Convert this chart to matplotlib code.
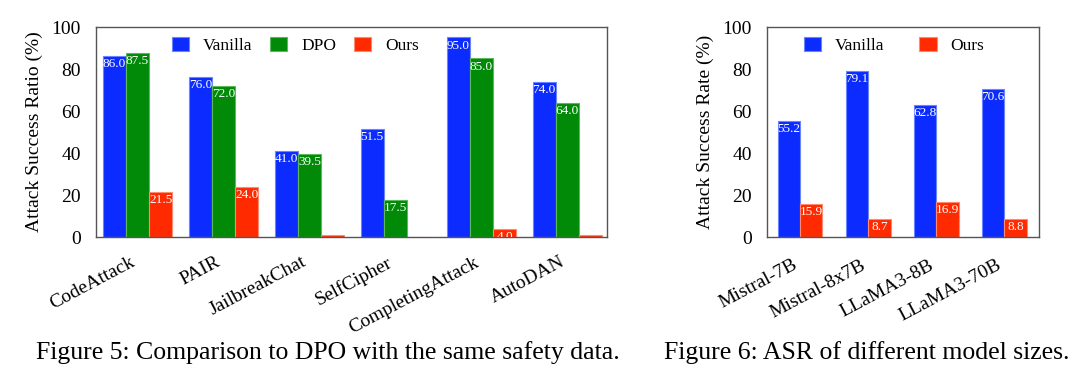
import matplotlib
matplotlib.use("Agg")
import matplotlib.pyplot as plt
import numpy as np

plt.rcParams["font.family"] = ["Liberation Serif", "DejaVu Serif"]

# ─── Data ───
attacks = ["CodeAttack", "PAIR", "JailbreakChat", "SelfCipher", "CompletingAttack", "AutoDAN"]
dpo_vanilla = [86.0, 76.0, 41.0, 51.5, 95.0, 74.0]
dpo_dpo = [87.5, 72.0, 39.5, 17.5, 85.0, 64.0]
dpo_ours = [21.5, 24.0, 1.0, 0.0, 4.0, 1.0]

models = ["Mistral-7B", "Mistral-8x7B", "LLaMA3-8B", "LLaMA3-70B"]
size_vanilla = [55.2, 79.1, 62.8, 70.6]
size_ours = [15.9, 8.7, 16.9, 8.8]

BLUE, GREEN, RED = "#0c2cff", "#008a08", "#ff2a00"
EDGES = {BLUE: "#6b84ff", GREEN: "#5cb85c", RED: "#ff8a70"}

W, H = 1080, 379
fig = plt.figure(figsize=(W / 100, H / 100), dpi=100)
ax1 = fig.add_axes([96 / W, 1 - 237 / H, 511 / W, 210 / H])
ax2 = fig.add_axes([767 / W, 1 - 237 / H, 272 / W, 210 / H])


def draw_bars(ax, x, vals, width, color, label):
    bars = ax.bar(x, vals, width, color=color, edgecolor=EDGES[color],
                  linewidth=0.8, label=label, zorder=2)
    for bar, v in zip(bars, vals):
        ax.annotate(f"{v:.1f}", (bar.get_x() + bar.get_width() / 2, v),
                    xytext=(0, -1.5), textcoords="offset points",
                    ha="center", va="top", color="white", fontsize=9.5,
                    annotation_clip=False, clip_on=True, zorder=3)


def style_axis(ax, labels, ylabel, label_pad):
    ax.set_ylim(0, 100)
    ax.set_yticks(range(0, 101, 20))
    ax.tick_params(axis="both", length=0, labelsize=14)
    ax.tick_params(axis="y", pad=11)
    ax.tick_params(axis="x", pad=label_pad)
    ax.set_xticks(range(len(labels)))
    ax.set_xticklabels(labels, rotation=28, ha="right", fontsize=14)
    ax.set_ylabel(ylabel, fontsize=14, labelpad=6)
    for sp in ax.spines.values():
        sp.set_color("#555555")
        sp.set_linewidth(1.0)


# Figure 5: comparison to DPO
x = np.arange(len(attacks))
w = 0.27
draw_bars(ax1, x - w, dpo_vanilla, w, BLUE, "Vanilla")
draw_bars(ax1, x, dpo_dpo, w, GREEN, "DPO")
draw_bars(ax1, x + w, dpo_ours, w, RED, "Ours")
ax1.set_xlim(-0.483, 5.46)
style_axis(ax1, attacks, "Attack Success Ratio (%)", 12)
ax1.legend(loc="upper center", bbox_to_anchor=(0.39, 1.0), ncol=3, frameon=False,
           fontsize=12.5, handlelength=1.0, handleheight=0.85, handletextpad=0.8,
           columnspacing=1.0, borderaxespad=0.2)

# Figure 6: model sizes
x2 = np.arange(len(models))
w2 = 0.33
draw_bars(ax2, x2 - w2 / 2, size_vanilla, w2, BLUE, "Vanilla")
draw_bars(ax2, x2 + w2 / 2, size_ours, w2, RED, "Ours")
ax2.set_xlim(-0.485, 3.51)
style_axis(ax2, models, "Attack Success Rate (%)", 14)
ax2.legend(loc="upper center", bbox_to_anchor=(0.467, 1.0), ncol=2, frameon=False,
           fontsize=12.5, handlelength=1.0, handleheight=0.85, handletextpad=0.8,
           columnspacing=2.0, borderaxespad=0.2)

fig.text(328 / W, 1 - 353 / H, "Figure 5: Comparison to DPO with the same safety data.",
         ha="center", va="center", fontsize=18.5)
fig.text(867 / W, 1 - 353 / H, "Figure 6: ASR of different model sizes.",
         ha="center", va="center", fontsize=18.5)

fig.savefig("out.png", dpi=100, facecolor="white")
